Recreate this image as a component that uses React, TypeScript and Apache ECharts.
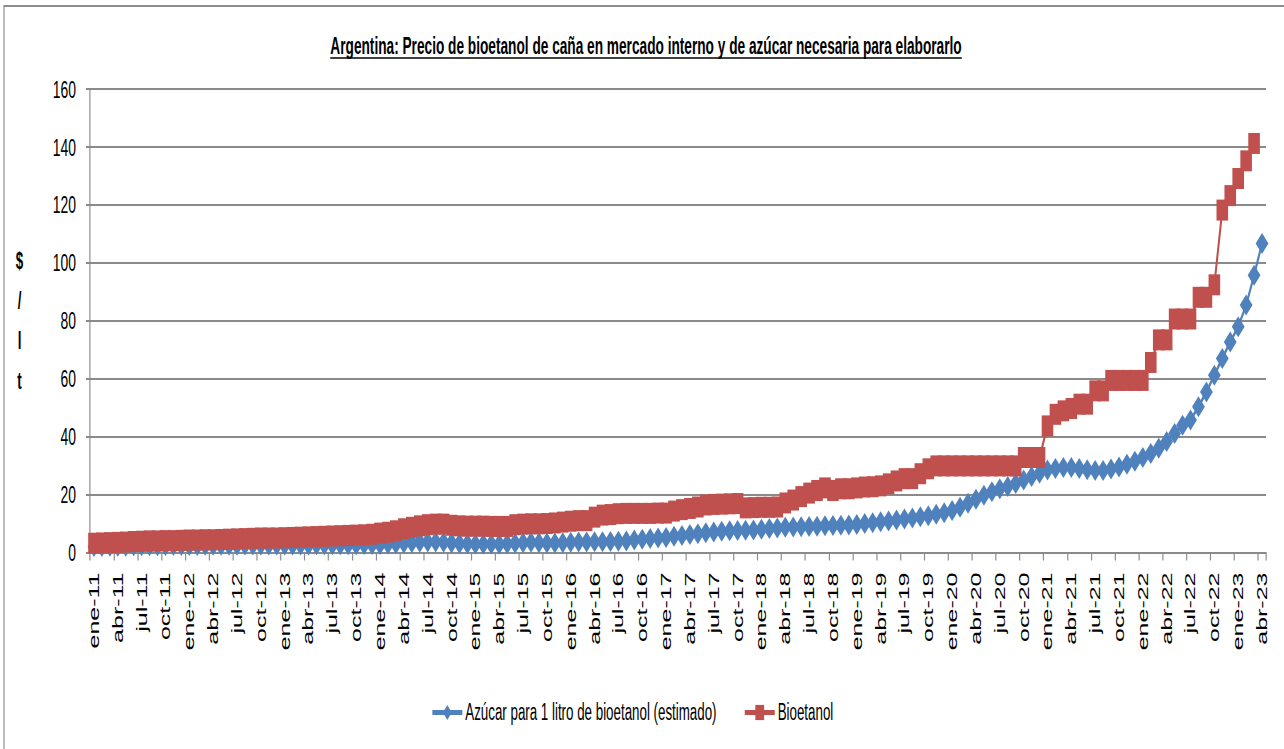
import React, { useEffect, useRef } from "react";
import * as echarts from "echarts";

// Horizontal squeeze of the original picture
const SX = 0.58;
const W = 1284 / SX;
const H = 749;

const TITLE =
  "Argentina: Precio de bioetanol de caña en mercado interno y de azúcar necesaria para elaborarlo";
const SERIES_NAMES = ["Azúcar para 1 litro de bioetanol (estimado)", "Bioetanol"];
const Y_NAME = "$\n/\nl\nt";

const MONTHS = ["ene", "feb", "mar", "abr", "may", "jun", "jul", "ago", "sep", "oct", "nov", "dic"];
const YEARS = ["11", "12", "13", "14", "15", "16", "17", "18", "19", "20", "21", "22", "23"];
const LAST_MONTHS_2023 = 4; // ene-23 .. abr-23

const Y_MIN = 0;
const Y_MAX = 160;
const Y_STEP = 20;

// Azúcar para 1 litro de bioetanol (estimado)
const AZUCAR = [
  // 2011
  2.1, 2.1, 2.2, 2.2, 2.2, 2.3, 2.3, 2.3, 2.3, 2.4, 2.4, 2.4,
  // 2012
  2.4, 2.4, 2.5, 2.5, 2.5, 2.5, 2.5, 2.6, 2.6, 2.6, 2.6, 2.6,
  // 2013
  2.6, 2.6, 2.6, 2.6, 2.7, 2.7, 2.7, 2.7, 2.7, 2.7, 2.8, 2.8,
  // 2014
  2.8, 2.9, 3.0, 3.2, 3.4, 3.5, 3.6, 3.6, 3.5, 3.3, 3.1, 3.0,
  // 2015
  2.9, 2.9, 2.9, 2.9, 3.0, 3.2, 3.4, 3.5, 3.4, 3.3, 3.3, 3.4,
  // 2016
  3.5, 3.6, 3.6, 3.7, 3.7, 3.8, 3.9, 4.0, 4.3, 4.6, 4.8, 5.0,
  // 2017
  5.2, 5.6, 5.9, 6.2, 6.5, 6.8, 7.1, 7.3, 7.5, 7.6, 7.7, 7.8,
  // 2018
  8.0, 8.3, 8.5, 8.7, 8.8, 8.9, 9.0, 9.1, 9.2, 9.3, 9.4, 9.5,
  // 2019
  9.7, 10.0, 10.3, 10.6, 10.9, 11.2, 11.6, 11.9, 12.3, 12.7, 13.2, 13.7,
  // 2020
  14.5, 15.6, 17.0, 18.4, 19.8, 21.0, 22.0, 22.8, 23.8, 25.0, 26.2, 27.4,
  // 2021
  28.5, 29.0, 29.3, 29.3, 29.0, 28.6, 28.3, 28.3, 28.8, 29.5, 30.5, 31.5,
  // 2022
  32.8, 34.2, 36.0, 38.3, 41.1, 43.9, 45.7, 50.3, 55.4, 61.2, 67.0, 72.7,
  // 2023
  77.9, 85.4, 95.7, 106.7,
];

// Bioetanol
const BIOETANOL = [
  // 2011
  3.2, 3.3, 3.4, 3.5, 3.6, 3.8, 3.9, 4.0, 4.0, 4.1, 4.1, 4.2,
  // 2012
  4.3, 4.3, 4.4, 4.4, 4.5, 4.6, 4.7, 4.8, 4.9, 5.0, 5.0, 5.0,
  // 2013
  5.1, 5.2, 5.3, 5.4, 5.5, 5.6, 5.7, 5.8, 5.9, 6.0, 6.1, 6.3,
  // 2014
  6.7, 7.0, 7.5, 8.2, 8.7, 9.2, 9.6, 9.8, 9.8, 9.4, 9.2, 9.1,
  // 2015
  9.1, 9.1, 9.0, 9.0, 9.0, 9.6, 9.8, 9.9, 9.9, 10.0, 10.2, 10.5,
  // 2016
  10.8, 11.0, 11.0, 12.2, 12.9, 13.1, 13.4, 13.5, 13.5, 13.5, 13.5, 13.6,
  // 2017
  13.6, 14.3, 14.8, 15.2, 15.7, 16.4, 16.6, 16.7, 16.8, 16.9, 15.4, 15.5,
  // 2018
  15.6, 15.6, 15.7, 17.1, 18.1, 19.3, 20.5, 21.4, 22.3, 21.4, 22.0, 22.0,
  // 2019
  22.3, 22.6, 22.7, 23.0, 23.7, 24.7, 25.5, 25.5, 27.2, 28.9, 29.9, 29.9,
  // 2020
  29.9, 29.9, 29.9, 29.9, 29.9, 29.9, 29.9, 29.9, 29.9, 32.8, 32.8, 32.8,
  // 2021
  43.7, 47.7, 48.9, 49.7, 51.2, 51.2, 55.8, 55.8, 59.4, 59.4, 59.4, 59.4,
  // 2022
  59.4, 65.6, 73.4, 73.4, 80.6, 80.6, 80.6, 88.1, 88.1, 92.4, 118.2, 123.2,
  // 2023
  129.1, 135.2, 141.2,
];

const BLUE = "#4F81BD";
const RED = "#C0504D";
const GRID_GRAY = "#8a8a8a";
const FONT = "'Liberation Sans', Arial, sans-serif";

function buildCategories(): string[] {
  const out: string[] = [];
  YEARS.forEach((y, yi) => {
    const count = yi === YEARS.length - 1 ? LAST_MONTHS_2023 : MONTHS.length;
    for (let m = 0; m < count; m++) out.push(`${MONTHS[m]}-${y}`);
  });
  return out;
}

function measure(text: string, font: string): number {
  const ctx = document.createElement("canvas").getContext("2d");
  if (!ctx) return text.length * 10;
  ctx.font = font;
  return ctx.measureText(text).width;
}

export default function App() {
  const ref = useRef<HTMLDivElement>(null);

  useEffect(() => {
    document.body.style.margin = "0";
    if (!ref.current) return;
    const chart = echarts.init(ref.current, undefined, { renderer: "svg", width: W, height: H });

    const categories = buildCategories();

    // title sizing: fit to target width
    const targetTitleW = 632 / SX;
    const w20 = measure(TITLE, `bold 20px "Liberation Sans"`);
    const titleSize = w20 > 0 ? (20 * targetTitleW) / w20 : 20;
    const titleW = measure(TITLE, `bold ${titleSize}px "Liberation Sans"`);
    const titleCx = 646 / SX;

    const gridLeft = 90 / SX;
    const gridRight = W - 1266 / SX;

    chart.setOption({
      animation: false,
      backgroundColor: "#ffffff",
      textStyle: { fontFamily: FONT },
      grid: { left: gridLeft, right: gridRight, top: 89, bottom: H - 552.5, containLabel: false },
      graphic: [
        {
          type: "rect",
          shape: { x: 4 / SX, y: 6, width: 5000, height: 5000 },
          style: { fill: "none", stroke: "#8c8c8c", lineWidth: 2 },
          silent: true,
        },
        {
          type: "text",
          x: titleCx,
          y: 46,
          style: {
            text: TITLE,
            fontFamily: FONT,
            fontWeight: "bold",
            fontSize: titleSize,
            fill: "#000",
            align: "center",
            verticalAlign: "middle",
          },
        },
        {
          type: "line",
          shape: { x1: titleCx - titleW / 2, y1: 58, x2: titleCx + titleW / 2, y2: 58 },
          style: { stroke: "#000", lineWidth: 1.5 },
        },
        {
          type: "text",
          x: 19.5 / SX,
          y: 321.5,
          style: {
            text: Y_NAME,
            fontFamily: FONT,
            fontWeight: "bold",
            fontSize: 23,
            lineHeight: 40,
            fill: "#000",
            align: "center",
            verticalAlign: "middle",
          },
        },
      ],
      legend: {
        left: 428 / SX,
        top: 696,
        itemWidth: 30 / SX,
        itemHeight: 19,
        itemGap: 46,
        lineStyle: { width: 5 },
        textStyle: { fontFamily: FONT, fontSize: 23, color: "#000" },
        data: SERIES_NAMES,
      },
      xAxis: {
        type: "category",
        data: categories,
        boundaryGap: true,
        axisLine: { show: true, lineStyle: { color: GRID_GRAY, width: 2 } },
        axisTick: {
          show: true,
          interval: 2,
          alignWithLabel: false,
          length: 8,
          lineStyle: { color: GRID_GRAY, width: 2 },
        },
        axisLabel: {
          interval: 2,
          rotate: 90,
          margin: 20,
          fontFamily: FONT,
          fontSize: 25,
          color: "#000",
        },
        splitLine: { show: false },
      },
      yAxis: {
        type: "value",
        min: Y_MIN,
        max: Y_MAX,
        interval: Y_STEP,
        axisLine: { show: true, lineStyle: { color: GRID_GRAY, width: 2 } },
        axisTick: { show: true, length: 7, lineStyle: { color: GRID_GRAY, width: 2 } },
        axisLabel: { margin: 24, fontFamily: FONT, fontSize: 24, color: "#000" },
        splitLine: { show: true, lineStyle: { color: GRID_GRAY, width: 2 } },
      },
      series: [
        {
          name: SERIES_NAMES[0],
          type: "line",
          data: AZUCAR,
          symbol: "diamond",
          symbolSize: [22, 21],
          showAllSymbol: true,
          clip: false,
          lineStyle: { color: BLUE, width: 3.5 },
          itemStyle: { color: BLUE, borderWidth: 0 },
          z: 2,
        },
        {
          name: SERIES_NAMES[1],
          type: "line",
          data: BIOETANOL,
          symbol: "rect",
          symbolSize: [20, 21],
          showAllSymbol: true,
          clip: false,
          lineStyle: { color: RED, width: 3.5 },
          itemStyle: { color: RED, borderWidth: 0 },
          z: 3,
        },
      ],
    });

    return () => {
      chart.dispose();
    };
  }, []);

  return (
    <div style={{ width: 1284, height: 749, overflow: "hidden", position: "relative", background: "#fff" }}>
      <div
        ref={ref}
        style={{
          width: W,
          height: H,
          transform: `scaleX(${SX})`,
          transformOrigin: "0 0",
          position: "absolute",
          left: 0,
          top: 0,
        }}
      />
    </div>
  );
}
